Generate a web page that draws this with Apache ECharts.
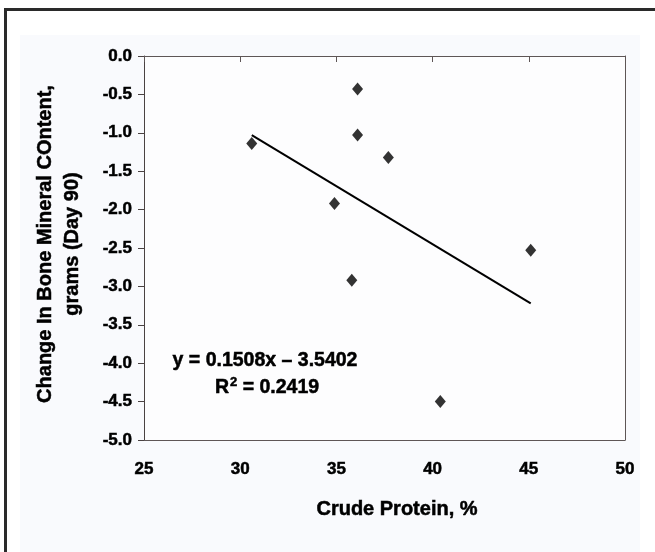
<!DOCTYPE html>
<html>
<head>
<meta charset="utf-8">
<script src="https://cdn.jsdelivr.net/npm/echarts@6/dist/echarts.min.js"></script>
<style>
html,body{margin:0;padding:0;background:#ffffff;}
#chart{width:655px;height:552px;}
</style>
</head>
<body>
<div id="chart"></div>
<script>
// Data
var proteinPct = [30.6, 36.1, 36.1, 37.7, 34.9, 35.8, 40.4, 45.1];
var bmcChange  = [-1.14, -0.43, -1.03, -1.32, -1.92, -2.92, -4.50, -2.53];
// Trend line end points (as drawn)
var trendX = [30.6, 45.1];
var trendY = [-1.03, -3.22];
var xTicks = [25, 30, 35, 40, 45, 50];
var yTicks = [0, -0.5, -1, -1.5, -2, -2.5, -3, -3.5, -4, -4.5, -5];
var xTitle = 'Crude Protein, %';
var yTitleLines = ['Change In Bone Mineral COntent,', 'grams (Day 90)'];
var eqLine1 = 'y = 0.1508x \u2013 3.5402';
var eqLine2 = ['R', '2', ' = 0.2419'];

var FONT = "'Liberation Sans', Arial, sans-serif";
var AXC = '#5e5656';

var chart = echarts.init(document.getElementById('chart'), null, {renderer: 'canvas'});
var scatterData = proteinPct.map(function (x, i) { return [x, bmcChange[i]]; });
var trendData = trendX.map(function (x, i) { return [x, trendY[i]]; });

var labelStyle = {fontFamily: FONT, fontWeight: 'bold', fontSize: 17, color: '#000',
  textBorderColor: '#000', textBorderWidth: 0.5};
var textStyleBold = {fontFamily: FONT, fontWeight: 'bold', fill: '#000', stroke: '#000', lineWidth: 0.5};

chart.setOption({
  animation: false,
  backgroundColor: '#ffffff',
  grid: {left: 144, top: 56, width: 481, height: 384, containLabel: false},
  xAxis: [{
    type: 'value', position: 'bottom', min: xTicks[0], max: xTicks[xTicks.length - 1], interval: 5,
    axisLine: {show: true, onZero: false, lineStyle: {color: AXC, width: 1}},
    axisTick: {show: false},
    splitLine: {show: false},
    axisLabel: Object.assign({margin: 21}, labelStyle)
  }, {
    type: 'value', position: 'top', min: xTicks[0], max: xTicks[xTicks.length - 1], interval: 5,
    axisLine: {show: true, onZero: false, lineStyle: {color: AXC, width: 1}},
    axisTick: {show: true, inside: true, length: 6, lineStyle: {color: AXC}},
    splitLine: {show: false},
    axisLabel: {show: false}
  }],
  yAxis: [{
    type: 'value', position: 'left', min: yTicks[yTicks.length - 1], max: yTicks[0], interval: 0.5,
    axisLine: {show: true, onZero: false, lineStyle: {color: '#4a4242', width: 1}},
    axisTick: {show: true, inside: false, length: 6, lineStyle: {color: '#4a4242'}},
    splitLine: {show: false},
    axisLabel: Object.assign({margin: 12, formatter: function (v) { return v.toFixed(1); }}, labelStyle)
  }, {
    type: 'value', position: 'right', min: yTicks[yTicks.length - 1], max: yTicks[0], interval: 0.5,
    axisLine: {show: true, onZero: false, lineStyle: {color: AXC, width: 1}},
    axisTick: {show: false},
    splitLine: {show: false},
    axisLabel: {show: false}
  }],
  series: [{
    type: 'line', data: trendData, xAxisIndex: 0, yAxisIndex: 0,
    showSymbol: false, symbol: 'none',
    lineStyle: {color: '#000', width: 2}, z: 2
  }, {
    type: 'scatter', data: scatterData, xAxisIndex: 0, yAxisIndex: 0,
    symbol: 'diamond', symbolSize: [11, 13],
    itemStyle: {color: '#000'}, z: 3
  }],
  graphic: [
    {type: 'rect', silent: true, z: -10, shape: {x: 5.5, y: 9.5, width: 660, height: 560},
      style: {fill: '#ffffff', stroke: '#2a2a2a', lineWidth: 3}},
    {type: 'rect', silent: true, z: -9, shape: {x: 20, y: 35, width: 620, height: 530},
      style: {fill: '#f9fafd'}},
    {type: 'rect', silent: true, z: -8, shape: {x: 144, y: 56, width: 481, height: 384},
      style: {fill: '#fdfdfe'}},
    {type: 'text', silent: true, x: 59, y: 244, rotation: Math.PI / 2,
      style: Object.assign({text: yTitleLines.join('\n'), fontSize: 20, lineHeight: 27,
        textAlign: 'center', textVerticalAlign: 'middle'}, textStyleBold)},
    {type: 'text', silent: true, x: 397, y: 509,
      style: Object.assign({text: xTitle, fontSize: 20,
        textAlign: 'center', textVerticalAlign: 'middle'}, textStyleBold)},
    {type: 'text', silent: true, x: 265, y: 361,
      style: Object.assign({text: eqLine1, fontSize: 19.5,
        textAlign: 'center', textVerticalAlign: 'middle'}, textStyleBold)},
    {type: 'text', silent: true, x: 267, y: 388,
      style: Object.assign({
        text: '{n|' + eqLine2[0] + '}{s|' + eqLine2[1] + '}{n|' + eqLine2[2] + '}',
        textAlign: 'center', textVerticalAlign: 'middle',
        rich: {
          n: {fontFamily: FONT, fontWeight: 'bold', fontSize: 19.5, lineHeight: 24, fill: '#000'},
          s: {fontFamily: FONT, fontWeight: 'bold', fontSize: 13, lineHeight: 24, fill: '#000',
              verticalAlign: 'top', padding: [0, 0, 9, 1]}
        }}, textStyleBold)}
  ]
});
</script>
</body>
</html>
